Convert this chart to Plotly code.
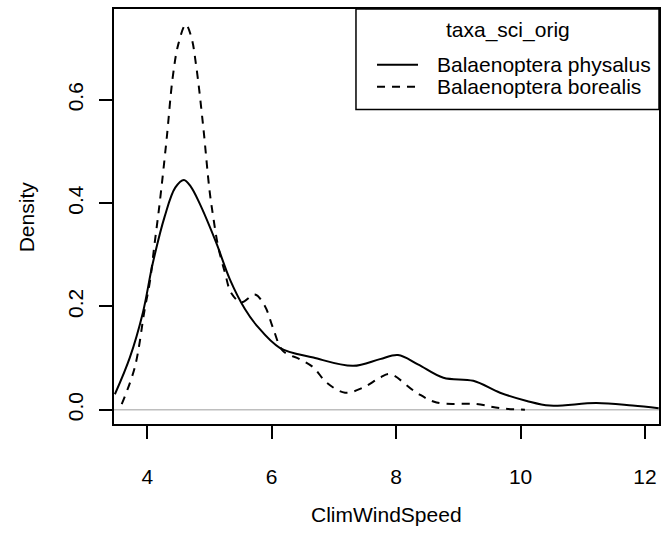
import plotly.graph_objects as go

# Density curves
wind_physalus = [3.48, 3.72, 3.93, 4.09, 4.28, 4.45, 4.59, 4.70, 4.84, 5.11, 5.33, 5.57, 5.76,
                 6.13, 6.67, 7.31, 7.74, 8.03, 8.35, 8.76, 9.24, 9.67, 10.1, 10.47, 11.22, 11.8, 12.22]
dens_physalus = [0.030, 0.101, 0.188, 0.284, 0.374, 0.430, 0.445, 0.432, 0.400, 0.323, 0.252, 0.195, 0.163,
                 0.120, 0.101, 0.085, 0.098, 0.106, 0.088, 0.062, 0.056, 0.033, 0.017, 0.008, 0.013, 0.008, 0.003]

wind_borealis = [3.59, 3.80, 3.96, 4.04, 4.12, 4.20, 4.31, 4.41, 4.50, 4.62, 4.71, 4.79, 4.90, 5.00,
                 5.06, 5.14, 5.25, 5.35, 5.51, 5.73, 5.89, 6.02, 6.18, 6.45, 6.67, 6.88, 7.18, 7.47,
                 7.74, 7.90, 8.33, 8.65, 9.29, 9.67, 10.07]
dens_borealis = [0.011, 0.082, 0.195, 0.246, 0.323, 0.400, 0.522, 0.644, 0.708, 0.746, 0.721, 0.663, 0.548, 0.426,
                 0.374, 0.316, 0.265, 0.226, 0.208, 0.223, 0.201, 0.159, 0.114, 0.098, 0.082, 0.053, 0.033, 0.043,
                 0.062, 0.069, 0.033, 0.014, 0.011, 0.003, 0.000]

series_names = ["Balaenoptera physalus", "Balaenoptera borealis"]
series_dash = ["solid", "8px,7px"]
legend_title = "taxa_sci_orig"
x_ticks = [4, 6, 8, 10, 12]
y_ticks = [0.0, 0.2, 0.4, 0.6]
y_ticktext = ["0.0", "0.2", "0.4", "0.6"]
x_label = "ClimWindSpeed"
y_label = "Density"

FONT = "Liberation Sans, Arial, Helvetica, sans-serif"
FS = 21

fig = go.Figure()
for xs, ys, nm, dsh in [(wind_physalus, dens_physalus, series_names[0], series_dash[0]),
                        (wind_borealis, dens_borealis, series_names[1], series_dash[1])]:
    fig.add_trace(go.Scatter(x=xs, y=ys, mode="lines", name=nm, showlegend=False,
                             line=dict(color="black", width=2, dash=dsh, shape="spline", smoothing=1.0)))

# grey zero line (abline h=0)
fig.add_shape(type="line", xref="paper", yref="y", x0=0, x1=1, y0=0, y1=0,
              line=dict(color="#bebebe", width=1.5), layer="below")

# R-style legend box (top right, inside the plot)
L_X0, L_X1, L_Y0, L_Y1 = 0.444, 1.0, 0.758, 1.0
fig.add_shape(type="rect", xref="paper", yref="paper", x0=L_X0, x1=L_X1, y0=L_Y0, y1=L_Y1,
              line=dict(color="black", width=1.5), fillcolor="white", layer="above")
annotations = [
    dict(text=legend_title, xref="paper", yref="paper", x=0.723, y=0.950,
         xanchor="center", yanchor="middle", showarrow=False, font=dict(family=FONT, size=FS)),
]
row_y = [0.8657, 0.8129]
for nm, dsh, ry in zip(series_names, series_dash, row_y):
    fig.add_shape(type="line", xref="paper", yref="paper", x0=0.4826, x1=0.5578, y0=ry, y1=ry,
                  line=dict(color="black", width=2, dash=dsh), layer="above")
    annotations.append(dict(text=nm, xref="paper", yref="paper", x=0.589, y=ry,
                            xanchor="left", yanchor="middle", showarrow=False,
                            font=dict(family=FONT, size=FS)))

annotations += [
    dict(text=x_label, xref="paper", yref="paper", x=0.5, y=-0.218,
         xanchor="center", yanchor="middle", showarrow=False,
         font=dict(family=FONT, size=FS)),
    dict(text=y_label, xref="paper", yref="paper", x=-0.16, y=0.5, textangle=-90,
         xanchor="center", yanchor="middle", showarrow=False,
         font=dict(family=FONT, size=FS)),
]

fig.update_layout(
    width=671, height=533,
    margin=dict(l=114, r=12, t=7, b=109),
    paper_bgcolor="white", plot_bgcolor="white",
    font=dict(family=FONT, size=FS, color="black"),
    showlegend=False,
    xaxis=dict(
        range=[3.466, 12.225], tickmode="array", tickvals=x_ticks,
        showgrid=False, zeroline=False,
        showline=True, mirror=True, linecolor="black", linewidth=2,
        ticks="outside", ticklen=13, tickwidth=2, tickcolor="black",
        tickfont=dict(family=FONT, size=FS), ticklabelstandoff=20,
    ),
    yaxis=dict(
        range=[-0.0276, 0.776], tickmode="array", tickvals=y_ticks, ticktext=y_ticktext,
        showgrid=False, zeroline=False,
        showline=True, mirror=True, linecolor="black", linewidth=2,
        ticks="outside", ticklen=13, tickwidth=2, tickcolor="black",
        tickangle=-90, tickfont=dict(family=FONT, size=FS), ticklabelstandoff=8,
    ),
    annotations=annotations,
)

fig.write_html("out.html")
